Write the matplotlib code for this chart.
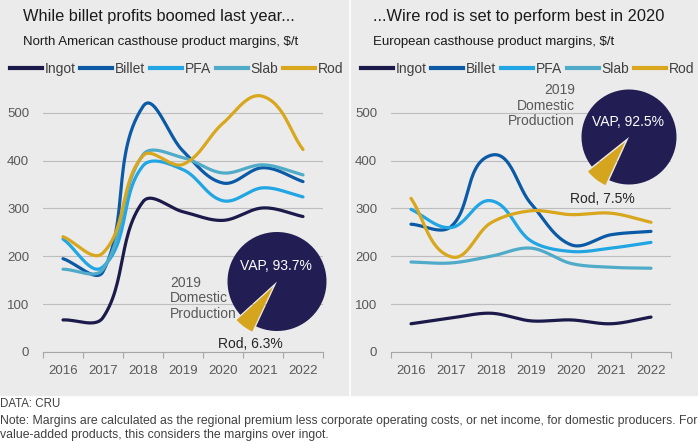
import numpy as np
import matplotlib.pyplot as plt
from matplotlib.patches import Rectangle
from matplotlib.lines import Line2D

plt.rcParams['font.family'] = ['Liberation Sans', 'DejaVu Sans']

years = ['2016', '2017', '2018', '2019', '2020', '2021', '2022']
series = ['Ingot', 'Billet', 'PFA', 'Slab', 'Rod']
colors = ['#1c1a4a', '#0b5aa6', '#21a5e3', '#4fabc8', '#d8a71d']

# North America, $/t
na_ingot = [67, 72, 314, 293, 275, 301, 283]
na_billet = [195, 168, 513, 420, 353, 385, 356]
na_pfa = [236, 178, 389, 381, 316, 343, 324]
na_slab = [173, 173, 412, 406, 374, 391, 370]
na_rod = [241, 207, 410, 392, 478, 534, 423]

# Europe, $/t
eu_ingot = [59, 71, 81, 65, 67, 59, 73]
eu_billet = [267, 262, 411, 310, 224, 245, 252]
eu_pfa = [298, 260, 316, 232, 210, 217, 229]
eu_slab = [188, 186, 200, 217, 185, 177, 175]
eu_rod = [321, 199, 270, 295, 287, 290, 271]

pie_labels = ['VAP', 'Rod']
na_share = [93.7, 6.3]
eu_share = [92.5, 7.5]

W, H = 698, 443
SX, SY = 40.0, 0.479   # pixels per year / per $ on the plots


def smooth(x, y, n=30):
    # smoothed line through the points, control arms scaled by segment length (screen space)
    P = np.column_stack([np.asarray(x, float) * SX, np.asarray(y, float) * SY])
    m = len(P)
    T = np.zeros_like(P)
    for i in range(m):
        a = P[max(i - 1, 0)]
        b = P[min(i + 1, m - 1)]
        d = b - a
        T[i] = d / np.hypot(*d)
    t = np.linspace(0, 1, n)[:, None]
    out = []
    for i in range(m - 1):
        p1, p2 = P[i], P[i + 1]
        L = np.hypot(*(p2 - p1))
        c1 = p1 + T[i] * L / 3
        c2 = p2 - T[i + 1] * L / 3
        seg = (1 - t) ** 3 * p1 + 3 * (1 - t) ** 2 * t * c1 + 3 * (1 - t) * t ** 2 * c2 + t ** 3 * p2
        out.append(seg if i == 0 else seg[1:])
    out = np.vstack(out)
    return out[:, 0] / SX, out[:, 1] / SY


def fx(px):
    return px / W


def fy(py):
    return 1 - py / H


fig = plt.figure(figsize=(W / 100, H / 100), dpi=100)
fig.patches.append(Rectangle((0, fy(395)), fx(347.5), 395 / H, transform=fig.transFigure,
                             color='#ebebeb', zorder=-10))
fig.patches.append(Rectangle((fx(350.5), fy(395)), 1 - fx(350.5), 395 / H, transform=fig.transFigure,
                             color='#ebebeb', zorder=-10))

panels = [
    dict(x0=43, title='While billet profits boomed last year...',
         sub='North American casthouse product margins, $/t',
         data=[na_ingot, na_billet, na_pfa, na_slab, na_rod], share=na_share,
         pie_c=(277, 281.5), pie_r=49.5, start=245, tx=23, lx=176.5),
    dict(x0=391, title='...Wire rod is set to perform best in 2020',
         sub='European casthouse product margins, $/t',
         data=[eu_ingot, eu_billet, eu_pfa, eu_slab, eu_rod], share=eu_share,
         pie_c=(629, 137), pie_r=47.5, start=245.5, tx=373, lx=527.5),
]

x = np.arange(len(years))
for k, p in enumerate(panels):
    ax = fig.add_axes([fx(p['x0']), fy(352), 280 / W, (352 - 83) / H])
    ax.set_facecolor('none')
    for name, vals, c in zip(series, p['data'], colors):
        sx, sy = smooth(x, vals)
        ax.plot(sx, sy, color=c, lw=2.3, solid_capstyle='round', zorder=3)
    ax.set_xlim(-0.5, 6.5)
    ax.set_ylim(0, 562)
    ax.set_yticks([0, 100, 200, 300, 400, 500])
    ax.set_xticks(x)
    ax.set_xticklabels(years)
    ax.set_xticks(np.arange(-0.5, 7, 1), minor=True)
    ax.tick_params(axis='x', which='major', length=0, pad=9, labelsize=9.5, labelcolor='#595959')
    ax.tick_params(axis='x', which='minor', length=4, color='#a6a6a6', width=0.8)
    ax.tick_params(axis='y', length=0, pad=10, labelsize=9.5, labelcolor='#595959')
    for s in ['top', 'right', 'left']:
        ax.spines[s].set_visible(False)
    ax.spines['bottom'].set_color('#a6a6a6')
    ax.spines['bottom'].set_linewidth(0.8)
    ax.grid(axis='y', color='#bdbdbd', lw=0.8)
    ax.set_axisbelow(True)

    handles = [Line2D([], [], color=c, lw=3) for c in colors]
    fig.legend(handles, series, loc='center', bbox_to_anchor=(fx(p['lx']), fy(69)),
               ncol=5, frameon=False, fontsize=10, handlelength=2.3, handletextpad=0.2,
               columnspacing=0.35, labelcolor='#404040', borderpad=0, borderaxespad=0)

    fig.text(fx(p['tx']), fy(17), p['title'], fontsize=11.8, color='#1a1a1a', va='center')
    fig.text(fx(p['tx']), fy(42), p['sub'], fontsize=9.5, color='#1a1a1a', va='center')

    cx, cy = p['pie_c']
    r = p['pie_r']
    pa = fig.add_axes([fx(cx - r), fy(cy + r), 2 * r / W, 2 * r / H])
    pa.pie(p['share'], colors=['#221d52', '#d6a51e'], startangle=p['start'],
           explode=[0, 0.13], wedgeprops=dict(linewidth=0))
    pa.set_xlim(-1, 1)
    pa.set_ylim(-1, 1)
    pa.set_aspect('equal')
    pa.axis('off')
    for w in pa.patches:
        w.set_clip_on(False)
    fig.text(fx(cx - 1), fy(cy - 15), f'{pie_labels[0]}, {p["share"][0]}%', fontsize=10,
             color='white', ha='center', va='center')
    fig.text(fx(cx - 27), fy(cy + 62), f'{pie_labels[1]}, {p["share"][1]}%', fontsize=10,
             color='#262626', ha='center', va='center')

fig.text(fx(170), fy(298.5), '2019\nDomestic\nProduction', fontsize=10, color='#595959',
         ha='left', va='center', linespacing=1.15)
fig.text(fx(575), fy(105.5), '2019\nDomestic\nProduction', fontsize=10, color='#595959',
         ha='right', va='center', linespacing=1.15)

fig.text(0, fy(404), 'DATA: CRU', fontsize=8.3, color='#404040', va='center')
fig.text(0, fy(428), 'Note: Margins are calculated as the regional premium less corporate operating costs, '
         'or net income, for domestic producers. For\nvalue-added products, this considers the margins over ingot.',
         fontsize=8.85, color='#404040', va='center', linespacing=1.25)

fig.savefig('out.png', dpi=100)
